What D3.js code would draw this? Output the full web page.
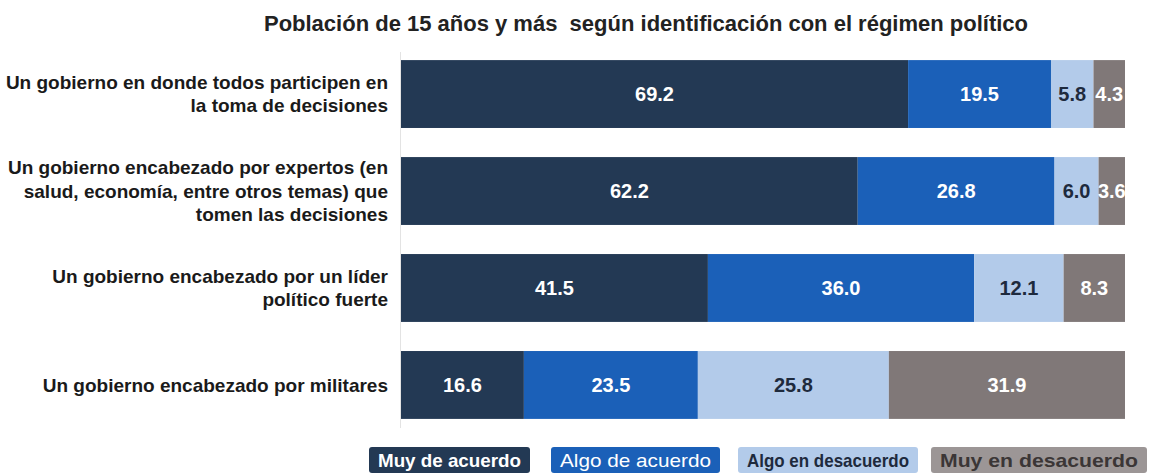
<!DOCTYPE html>
<html>
<head>
<meta charset="utf-8">
<script src="https://cdn.jsdelivr.net/npm/d3@7.9.0/dist/d3.min.js"></script>
<style>
  body { margin: 0; background: #fff; }
  svg { display: block; font-family: "Liberation Sans", Arial, sans-serif; }
</style>
</head>
<body>
<div id="vis"></div>
<script>
// data
const title = 'Población de 15 años y más  según identificación con el régimen político';
const categories = [
  'Un gobierno en donde todos participen en la toma de decisiones',
  'Un gobierno encabezado por expertos (en salud, economía, entre otros temas) que tomen las decisiones',
  'Un gobierno encabezado por un líder político fuerte',
  'Un gobierno encabezado por militares'
];
const categoryLines = [
  ['Un gobierno en donde todos participen en', 'la toma de decisiones'],
  ['Un gobierno encabezado por expertos (en', 'salud, economía, entre otros temas) que', 'tomen las decisiones'],
  ['Un gobierno encabezado por un líder', 'político fuerte'],
  ['Un gobierno encabezado por militares']
];
const seriesNames = ['Muy de acuerdo', 'Algo de acuerdo', 'Algo en desacuerdo', 'Muy en desacuerdo'];
const muyDeAcuerdo      = [69.2, 62.2, 41.5, 16.6];
const algoDeAcuerdo     = [19.5, 26.8, 36.0, 23.5];
const algoEnDesacuerdo  = [5.8, 6.0, 12.1, 25.8];
const muyEnDesacuerdo   = [4.3, 3.6, 8.3, 31.9];

const colors    = ['#233954', '#1b60b8', '#b3cbea', '#807878'];
const txtColors = ['#ffffff', '#ffffff', '#1e2a3d', '#ffffff'];
const legFill   = ['#233954', '#1b60b8', '#b3cbea', '#9c9696'];
const legTxt    = ['#ffffff', '#ffffff', '#1e2a3d', '#3b3636'];
const legWeight = ['bold', 'normal', 'bold', 'bold'];
// legend box layout [x, width]
const legBox = [[369, 161], [551, 169], [738, 180], [931, 216]];

const W = 1151, H = 475;
const svg = d3.select('#vis').append('svg').attr('width', W).attr('height', H);

// table for stack
const table = categories.map((c, i) => ({
  cat: c,
  'Muy de acuerdo': muyDeAcuerdo[i],
  'Algo de acuerdo': algoDeAcuerdo[i],
  'Algo en desacuerdo': algoEnDesacuerdo[i],
  'Muy en desacuerdo': muyEnDesacuerdo[i]
}));
const stack = d3.stack().keys(seriesNames).offset(d3.stackOffsetExpand)(table);

const x = d3.scaleLinear().domain([0, 1]).range([401, 1125]);
const y = d3.scaleBand().domain(categories).range([31, 448]).padding(0.3);

// title
svg.append('text')
  .attr('x', 646).attr('y', 31)
  .attr('text-anchor', 'middle')
  .style('white-space', 'pre')
  .attr('font-size', 22).attr('font-weight', 'bold').attr('fill', '#222')
  .text(title);

// faint axis line
svg.append('line')
  .attr('x1', x(0) - 0.5).attr('x2', x(0) - 0.5)
  .attr('y1', 52).attr('y2', 428)
  .attr('stroke', '#e3e3e3');

// bars
const groups = svg.selectAll('g.series')
  .data(stack)
  .join('g')
    .attr('class', 'series')
    .attr('fill', (d, i) => colors[i]);

groups.selectAll('rect')
  .data(d => d)
  .join('rect')
    .attr('x', d => x(d[0]))
    .attr('width', d => x(d[1]) - x(d[0]))
    .attr('y', d => y(d.data.cat))
    .attr('height', y.bandwidth());

// value labels
groups.each(function(s, i) {
  d3.select(this).selectAll('text')
    .data(s)
    .join('text')
      .attr('x', d => (x(d[0]) + x(d[1])) / 2)
      .attr('y', d => y(d.data.cat) + y.bandwidth() / 2)
      .attr('dy', '0.35em')
      .attr('text-anchor', 'middle')
      .attr('font-size', 20).attr('font-weight', 'bold')
      .attr('fill', txtColors[i])
      .text(d => d.data[s.key].toFixed(1));
});

// category labels
const lineH = 23.5;
svg.selectAll('text.cat')
  .data(categories)
  .join('text')
    .attr('class', 'cat')
    .attr('text-anchor', 'end')
    .attr('font-size', 19).attr('font-weight', 'bold').attr('fill', '#1a1a1a')
    .each(function(c, i) {
      const lines = categoryLines[i];
      const cy = y(c) + y.bandwidth() / 2;
      d3.select(this).selectAll('tspan')
        .data(lines)
        .join('tspan')
          .attr('x', 388)
          .attr('y', (l, j) => cy + (j - (lines.length - 1) / 2) * lineH)
          .attr('dy', '0.35em')
          .text(l => l);
    });

// legend
const leg = svg.selectAll('g.legend')
  .data(seriesNames)
  .join('g')
    .attr('class', 'legend');

leg.append('rect')
  .attr('x', (d, i) => legBox[i][0]).attr('y', 447)
  .attr('width', (d, i) => legBox[i][1]).attr('height', 26)
  .attr('rx', 3)
  .attr('fill', (d, i) => legFill[i]);

leg.append('text')
  .attr('x', (d, i) => legBox[i][0] + legBox[i][1] / 2)
  .attr('y', 460).attr('dy', '0.35em')
  .attr('text-anchor', 'middle')
  .attr('font-size', 19)
  .attr('font-weight', (d, i) => legWeight[i])
  .attr('fill', (d, i) => legTxt[i])
  .attr('textLength', (d, i) => legBox[i][1] - 18)
  .attr('lengthAdjust', 'spacingAndGlyphs')
  .text(d => d);
</script>
</body>
</html>
